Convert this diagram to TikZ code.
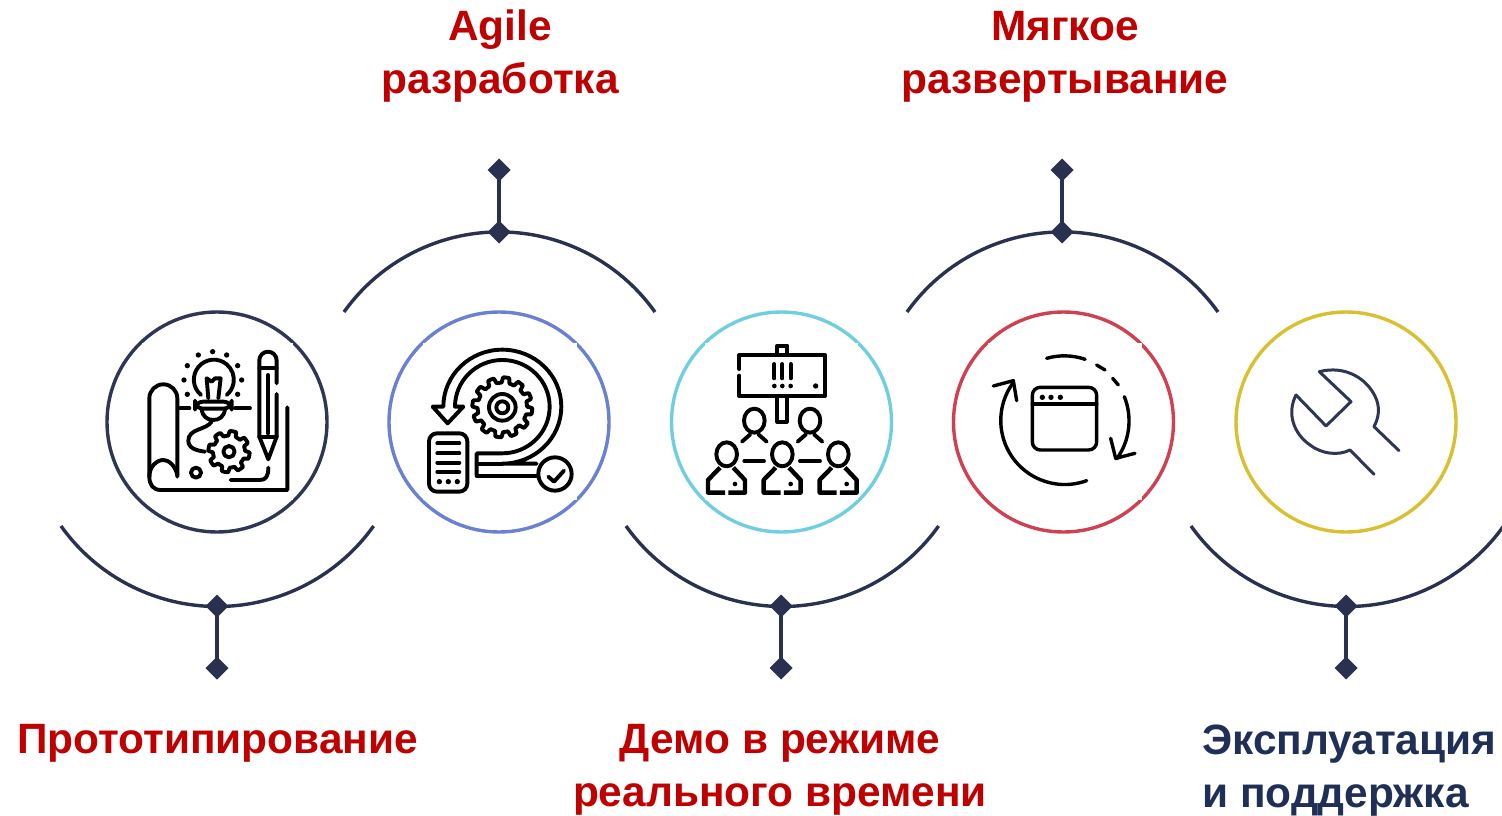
\documentclass[tikz,border=0pt]{standalone}
\usepackage{fontspec}
\setmainfont{Liberation Sans}
\usetikzlibrary{shapes.geometric}
\definecolor{navy}{HTML}{2A304F}
\definecolor{labelred}{HTML}{C00000}
\definecolor{labelnavy}{HTML}{1F2F55}
\definecolor{cone}{HTML}{2F3654}
\definecolor{ctwo}{HTML}{6A80D0}
\definecolor{cthree}{HTML}{6FCFE0}
\definecolor{cfour}{HTML}{CF4050}
\definecolor{cfive}{HTML}{D8C030}
\tikzset{
  ring/.style={circle,draw,line width=3.4pt,minimum size=220pt,inner sep=0pt},
  gem/.style={diamond,fill=navy,inner sep=0pt,outer sep=0pt,minimum size=23pt},
  bow/.style={draw=navy,line width=3.4pt},
  stem/.style={draw=navy,line width=4pt},
  caption/.style={font=\bfseries\fontsize{42.4}{53}\selectfont,text=labelred,align=center,inner sep=0pt},
  ink/.style={draw=black,line width=3.9pt,line join=round,line cap=round},
  thinink/.style={draw=black,line width=3.4pt,line join=round,line cap=round},
  wink/.style={draw=cone,line width=3pt,line join=round,line cap=round},
}
\begin{document}
\begin{tikzpicture}[x=1pt,y=-1pt,
  declare function={gr(\t,\n,\a,\b)=\a+(\b-\a)*max(0,min(1,0.5+1.5*sin(\n*\t)));}]
\useasboundingbox[fill=white] (0,0) rectangle (1502,816);

% arcs
\coordinate (a1) at (61,526);
\coordinate (a2) at (344,312);
\coordinate (a3) at (626,526);
\coordinate (a4) at (907,312);
\coordinate (a5) at (1191,526);
\draw[bow] (a1) arc[start angle=144.5,end angle=35.5,radius=192];
\draw[bow] (a2) arc[start angle=-144.5,end angle=-35.5,radius=191];
\draw[bow] (a3) arc[start angle=144.5,end angle=35.5,radius=192];
\draw[bow] (a4) arc[start angle=-144.5,end angle=-35.5,radius=191];
\draw[bow] (a5) arc[start angle=144.5,end angle=35.5,radius=192];

% rings
\node[ring,draw=cone] (r1) at (217,422) {};
\node[ring,draw=ctwo] (r2) at (499,422) {};
\node[ring,draw=cthree] (r3) at (781.5,422) {};
\node[ring,draw=cfour] (r4) at (1063.5,422) {};
\node[ring,draw=cfive] (r5) at (1346,422) {};

% white icon backgrounds
\fill[white] (142,343) rectangle (293,500);
\fill[white] (423,343) rectangle (577,500);
\fill[white] (705,343) rectangle (858,500);
\fill[white] (988,343) rectangle (1142,500);

% diamonds and stems
\node[gem] (d1a) at (217,606) {};
\node[gem] (d1b) at (217,668) {};
\node[gem] (d2a) at (499,232) {};
\node[gem] (d2b) at (499,170) {};
\node[gem] (d3a) at (781,606) {};
\node[gem] (d3b) at (781,668) {};
\node[gem] (d4a) at (1062,232) {};
\node[gem] (d4b) at (1062,170) {};
\node[gem] (d5a) at (1346,606) {};
\node[gem] (d5b) at (1346,668) {};
\draw[stem] (d1a.center) -- (d1b.center);
\draw[stem] (d2a.center) -- (d2b.center);
\draw[stem] (d3a.center) -- (d3b.center);
\draw[stem] (d4a.center) -- (d4b.center);
\draw[stem] (d5a.center) -- (d5b.center);

% labels
\node[caption,anchor=north] (t2) at (500,10) {Agile\\разработка};
\node[caption,anchor=north] (t4) at (1065,11.5) {Мягкое\\развертывание};
\node[caption,anchor=north] (t1) at (217.5,724.5) {Прототипирование};
\node[caption,anchor=north] (t3) at (780,724.5) {Демо в режиме\\реального времени};
\node[caption,anchor=north west,align=left,text=labelnavy] (t5) at (1202,724.5) {Эксплуатация\\и поддержка};

% icon 1: blueprint
\begin{scope}[shift={(100,300)},x=0.3333pt,y=-0.3333pt]
  \draw[ink] (232,530) -- (232,295) arc[start angle=0,end angle=-180,radius=42] -- (148,530)
     .. controls (148,555) and (160,570) .. (182,570) -- (562,570) -- (562,322);
  \draw[ink] (232,525) .. controls (225,495) and (205,480) .. (190,480) .. controls (170,480) and (148,500) .. (148,530);
  \draw[ink] (240,325) -- (268,325);
  \draw[ink] (405,325) -- (450,325);
  \draw[ink] (303,285) arc[start angle=130,end angle=410,radius=60];
  \draw[ink,rounded corners=8pt] (285,305) rectangle (395,326);
  \draw[ink] (305,328) .. controls (308,350) and (322,360) .. (340,360) .. controls (358,360) and (372,350) .. (375,328);
  \draw[ink] (325,295) -- (320,235) -- (335,245) -- (345,235) -- (362,235) -- (355,295);
  \foreach \px/\py in {295/165,338/155,380/165,262/197,413/197,252/240,425/240,262/283,413/283}
     \fill[black] (\px,\py) circle[radius=8];
  \draw[ink] (335,365) .. controls (320,390) and (265,385) .. (265,422) .. controls (265,445) and (290,452) .. (315,455);
  \draw[ink] plot[domain=0:360,samples=241] ({387+gr(\x,8,48,62)*cos(\x)},{455+gr(\x,8,48,62)*sin(\x)}) -- cycle;
  \draw[ink] (387,455) circle[radius=17];
  \draw[ink] (288,518) circle[radius=15];
  \draw[ink] (530,250) -- (530,181) arc[start angle=0,end angle=-180,radius=26] -- (478,410) -- (505,478) -- (530,410) -- (530,282);
  \draw[ink] (478,205) -- (530,205);
  \draw[ink] (504,225) -- (504,400);
  \draw[ink] (478,410) -- (530,410);
  \draw[ink] (392,540) -- (480,540) .. controls (497,540) and (505,530) .. (505,503);
\end{scope}

% icon 2: agile cycle
\begin{scope}[shift={(380,300)},x=0.3333pt,y=-0.3333pt]
  \draw[ink] (290,525) -- (290,460) -- (367,460) arc[start angle=90,end angle=-180,x radius=142,y radius=140]
     -- (250,320) -- (203,370) -- (158,320) -- (190,320) arc[start angle=-180,end angle=90,x radius=177,y radius=171] -- (470,491);
  \draw[ink] (290,491) -- (367,491);
  \draw[ink] (290,527) -- (475,527);
  \draw[ink] (525,522) circle[radius=50];
  \draw[ink] (505,530) -- (522,545) -- (552,512);
  \draw[ink] plot[domain=0:360,samples=361] ({367+gr(\x,12,74,90)*cos(\x)},{322+gr(\x,12,74,90)*sin(\x)}) -- cycle;
  \draw[ink] (367,322) circle[radius=40];
  \draw[ink] (367,322) circle[radius=18];
  \draw[ink,rounded corners=8pt] (147,400) rectangle (262,575);
  \foreach \py in {430,460,488,516} \draw[ink] (172,\py) -- (238,\py);
  \foreach \px in {178,205,232} \fill[black] (\px,545) circle[radius=8];
\end{scope}

% icon 3: demo audience
\begin{scope}[shift={(660,300)},x=0.3333pt,y=-0.3333pt]
  \draw[ink] (238,207) -- (238,165) -- (495,165) -- (495,288) -- (238,288) -- (238,227);
  \draw[ink] (352,165) -- (352,137) -- (382,137) -- (382,165);
  \draw[ink] (352,290) -- (352,365) -- (380,365) -- (380,290);
  \foreach \px in {343,367,392} {
    \draw[ink] (\px,192) -- (\px,235);
    \fill[black] (\px,258) circle[radius=7];
  }
  \fill[black] (467,258) circle[radius=8];
  \foreach \px in {283,450} {
    \draw[ink] (\px,362) ellipse[x radius=31,y radius=36];
    \draw[ink] (\px-37,425) -- (\px-12,403);
    \draw[ink] (\px+37,425) -- (\px+12,403);
  }
  \foreach \px in {200,367,535} {
    \draw[ink] (\px,463) ellipse[x radius=31,y radius=36];
    \draw[ink,line cap=butt,line width=4.4pt] (\px-20,503) -- (\px-56,540) -- (\px-56,578) -- (\px-5,578);
    \draw[ink,line cap=butt,line width=4.4pt] (\px+5,578) -- (\px+55,578) -- (\px+55,540) -- (\px+20,503);
    \fill[black] (\px+25,552) circle[radius=7];
  }
  \draw[ink] (253,483) -- (312,483);
  \draw[ink] (420,483) -- (480,483);
\end{scope}

% icon 4: soft deployment
\begin{scope}[shift={(945,300)},x=0.3333pt,y=-0.3333pt]
  \draw[thinink,rounded corners=8pt] (262,262) rectangle (455,450);
  \draw[thinink] (262,312) -- (455,312);
  \foreach \px in {292,318,346} \fill[black] (\px,292) circle[radius=8];
  \draw[thinink] (305,175) arc[start angle=-106,end angle=-71,radius=192];
  \draw[thinink] (455,195) -- (480,210);
  \draw[thinink] (503,235) -- (520,255);
  \draw[thinink] (538,290) arc[start angle=-22,end angle=36,radius=194];
  \draw[thinink] (497,415) -- (512,475) -- (570,460);
  \draw[thinink] (425,542) arc[start angle=70,end angle=215,radius=192];
  \draw[thinink] (145,258) -- (205,242) -- (215,302);
\end{scope}

% icon 5: wrench
\begin{scope}[shift={(1225,300)},x=0.3333pt,y=-0.3333pt]
  \draw[wink] (213,285) -- (303,378) -- (378,305) -- (283,215)
     .. controls (360,195) and (430,235) .. (455,300) .. controls (465,330) and (460,355) .. (447,380) -- (522,452);
  \draw[wink] (213,285) .. controls (185,340) and (205,400) .. (255,435) .. controls (290,462) and (340,468) .. (375,450) -- (447,523);
\end{scope}
\end{tikzpicture}
\end{document}
